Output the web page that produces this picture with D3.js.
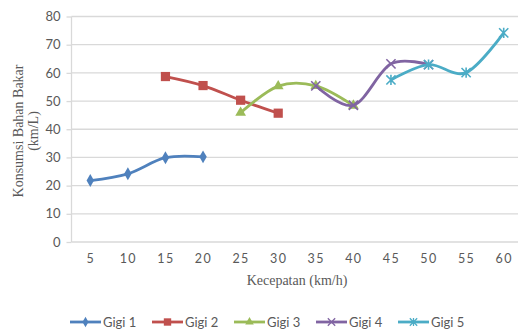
<!DOCTYPE html>
<html>
<head>
<meta charset="utf-8">
<script src="https://cdn.jsdelivr.net/npm/d3@7"></script>
<style>
  html, body { margin: 0; padding: 0; background: #fff; }
  svg { display: block; }
</style>
</head>
<body>
<div id="chart"></div>
<script>
// Fuel consumption per gear against speed
const speeds = ["5", "10", "15", "20", "25", "30", "35", "40", "45", "50", "55", "60"];
const yTicks = [0, 10, 20, 30, 40, 50, 60, 70, 80];
const seriesNames = ["Gigi 1", "Gigi 2", "Gigi 3", "Gigi 4", "Gigi 5"];
const gigi1 = [["5", 21.8], ["10", 24.2], ["15", 29.9], ["20", 30.2]];
const gigi2 = [["15", 58.7], ["20", 55.5], ["25", 50.3], ["30", 45.7]];
const gigi3 = [["25", 45.9], ["30", 55.3], ["35", 55.4], ["40", 48.4]];
const gigi4 = [["35", 55.4], ["40", 48.5], ["45", 63.2], ["50", 62.9]];
const gigi5 = [["45", 57.5], ["50", 62.9], ["55", 60.1], ["60", 74.2]];
const colors = ["#4F81BD", "#C0504D", "#9BBB59", "#8064A2", "#4BACC6"];
const markers = ["diamond", "square", "triangle", "x", "star"];

const allSeries = [gigi1, gigi2, gigi3, gigi4, gigi5];

const W = 518, H = 331;
const svg = d3.select("#chart").append("svg")
  .attr("width", W).attr("height", H);

const plot = { left: 71.5, right: 522.5, top: 16.5, bottom: 242 };

const x = d3.scalePoint().domain(speeds)
  .range([plot.left, plot.right]).padding(0.5);
const y = d3.scaleLinear().domain([0, 80])
  .range([plot.bottom, plot.top]);

const textGray = "#595959";
const gridGray = "#D9D9D9";

// horizontal gridlines
svg.append("g").selectAll("line").data(yTicks).join("line")
  .attr("x1", plot.left).attr("x2", W)
  .attr("y1", d => y(d)).attr("y2", d => y(d))
  .attr("stroke", gridGray).attr("stroke-width", 1.3);

// left axis line with small tick marks
svg.append("line")
  .attr("x1", plot.left).attr("x2", plot.left)
  .attr("y1", plot.top).attr("y2", plot.bottom)
  .attr("stroke", gridGray).attr("stroke-width", 1.3);

const yAxis = d3.axisLeft(y).tickValues(yTicks).tickSize(5).tickPadding(6);
const yg = svg.append("g").attr("transform", `translate(${plot.left},0)`).call(yAxis);
yg.select(".domain").remove();
yg.selectAll(".tick line").attr("stroke", gridGray).attr("stroke-width", 1.3);
yg.selectAll(".tick text")
  .attr("fill", textGray)
  .style("font-family", "Lato, 'Open Sans', sans-serif")
  .style("font-size", "13px");

const xAxis = d3.axisBottom(x).tickSize(0).tickPadding(12);
const xg = svg.append("g").attr("transform", `translate(0,${plot.bottom})`).call(xAxis);
xg.select(".domain").remove();
xg.selectAll(".tick text")
  .attr("fill", textGray)
  .style("font-family", "Lato, 'Open Sans', sans-serif")
  .style("font-size", "12.5px")
  .style("letter-spacing", "1.5px");

// axis titles
svg.append("text")
  .attr("x", 297).attr("y", 285)
  .attr("text-anchor", "middle")
  .attr("fill", textGray)
  .style("font-family", "'Liberation Serif', 'Times New Roman', serif")
  .style("font-size", "14px")
  .text("Kecepatan (km/h)");

const yTitle = svg.append("text")
  .attr("transform", "translate(23,131) rotate(-90)")
  .attr("text-anchor", "middle")
  .attr("fill", textGray)
  .style("font-family", "'Liberation Serif', 'Times New Roman', serif")
  .style("font-size", "14px");
yTitle.append("tspan").attr("x", 0).attr("dy", 0).text("Konsumsi Bahan Bakar");
yTitle.append("tspan").attr("x", 0).attr("dy", 15).text("(km/L)");

// marker shapes
function drawMarker(g, type, color) {
  const s = 4.6;
  if (type === "diamond") {
    g.append("path").attr("d", d3.symbol(d3.symbolDiamond, 48)()).attr("fill", color);
  } else if (type === "square") {
    g.append("rect").attr("x", -s).attr("y", -s).attr("width", 2 * s).attr("height", 2 * s).attr("fill", color);
  } else if (type === "triangle") {
    g.append("path").attr("d", d3.symbol(d3.symbolTriangle, 50)()).attr("fill", color);
  } else if (type === "x") {
    g.append("path").attr("d", `M${-s},${-s}L${s},${s}M${-s},${s}L${s},${-s}`)
      .attr("stroke", color).attr("stroke-width", 1.6).attr("fill", "none");
  } else if (type === "star") {
    g.append("path").attr("d", `M${-s},${-s}L${s},${s}M${-s},${s}L${s},${-s}M0,${-s - 0.5}L0,${s + 0.5}`)
      .attr("stroke", color).attr("stroke-width", 1.6).attr("fill", "none");
  }
}

const line = d3.line()
  .x(d => x(d[0])).y(d => y(d[1]))
  .curve(d3.curveCatmullRom.alpha(0));

allSeries.forEach((data, i) => {
  const g = svg.append("g");
  g.append("path").datum(data)
    .attr("d", line)
    .attr("fill", "none")
    .attr("stroke", colors[i])
    .attr("stroke-width", 2.8)
    .attr("stroke-linejoin", "round");
  data.forEach(d => {
    const m = g.append("g").attr("transform", `translate(${x(d[0])},${y(d[1])})`);
    drawMarker(m, markers[i], colors[i]);
  });
});

// legend
const legend = svg.append("g");
seriesNames.forEach((name, i) => {
  const lx = 70 + i * 82, ly = 322;
  const item = legend.append("g");
  item.append("line")
    .attr("x1", lx).attr("x2", lx + 31).attr("y1", ly).attr("y2", ly)
    .attr("stroke", colors[i]).attr("stroke-width", 2.8);
  const m = item.append("g").attr("transform", `translate(${lx + 15.5},${ly}) scale(0.8)`);
  drawMarker(m, markers[i], colors[i]);
  item.append("text")
    .attr("x", lx + 33).attr("y", ly + 4.5)
    .attr("fill", textGray)
    .style("font-family", "Lato, 'Open Sans', sans-serif")
    .style("font-size", "13px")
    .text(name);
});
</script>
</body>
</html>
